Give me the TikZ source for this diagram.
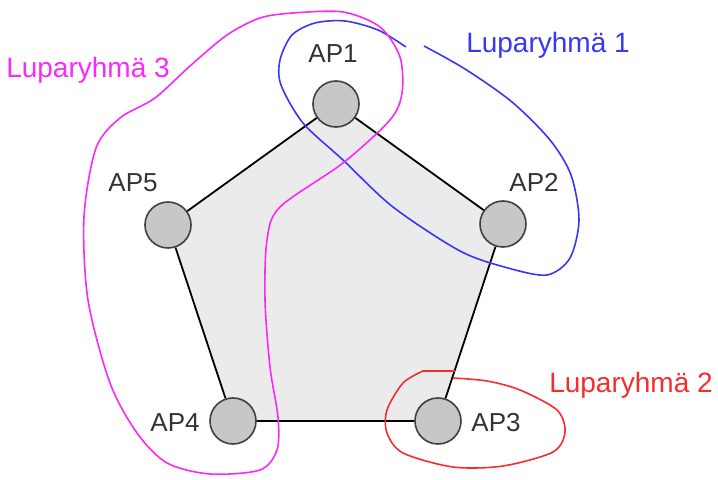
\documentclass[tikz,border=0pt]{standalone}
\usepackage{fontspec}
\setmainfont{Liberation Sans}
\usetikzlibrary{positioning}
\definecolor{grpone}{RGB}{55,55,245}
\definecolor{grptwo}{RGB}{245,45,45}
\definecolor{grpthree}{RGB}{250,40,250}
\tikzset{
	ap/.style={circle, draw=black!75, fill=black!22, thick, minimum size=23pt, inner sep=0pt},
	aplabel/.style={anchor=base, text=black!80, font=\fontsize{13}{15}\selectfont},
	grplabel/.style={anchor=base, font=\fontsize{14}{16}\selectfont},
	grpline/.style={line width=0.8pt}
}

\begin{document}
\begin{tikzpicture}[x=0.5pt, y=-0.5pt]
	\useasboundingbox (0,0) rectangle (718,480);
	% access points
	\foreach \name/\x/\y in {ap1/336/104, ap2/503/224, ap3/438/421, ap4/233/421, ap5/168/225} {
		\coordinate (\name c) at (\x, \y);
	}
	\fill[black!8] (ap1c) -- (ap2c) -- (ap3c) -- (ap4c) -- (ap5c) -- cycle;
	\foreach \name in {ap1,ap2,ap3,ap4,ap5} {
		\node[ap] (\name) at (\name c) {};
	}
	\draw[line width=0.9pt] (ap1) -- (ap2) -- (ap3) -- (ap4) -- (ap5) -- (ap1);
	\node[aplabel] (ap1lbl) at (333, 63) {AP1};
	\node[aplabel] (ap2lbl) at (534, 192) {AP2};
	\node[aplabel] (ap3lbl) at (496, 432) {AP3};
	\node[aplabel] (ap4lbl) at (175, 432) {AP4};
	\node[aplabel] (ap5lbl) at (133, 192) {AP5};
	% groups
	\draw[grpline, grpone] plot[smooth] coordinates {(424,46) (465,69) (512,102) (550,140) (571,175) (579,220) (570,258) (547,275) (508,268) (460,251) (393,207) (343,160) (303,123) (281,85) (280,60) (292,35) (315,23) (345,21) (378,30) (406,47)};
	\draw[grpline, grpthree] plot[smooth cycle] coordinates {(293,13) (343,12) (380,27) (400,57) (402,93) (390,120) (343,163) (280,207) (267,240) (265,300) (270,367) (278,417) (277,450) (260,470) (210,474) (167,463) (137,433) (110,383) (88,300) (84,217) (96,148) (120,118) (155,98) (190,66) (227,35) (260,18)};
	\draw[grpline, grptwo] plot[smooth] coordinates {(453,378) (487,381) (520,390) (557,410) (565,432) (553,452) (503,466) (453,467) (403,453) (387,433) (387,410) (403,383) (423,371)} -- (455,371);
	\node[grplabel, text=grpone] (grp1lbl) at (548, 53) {Luparyhmä 1};
	\node[grplabel, text=grptwo] (grp2lbl) at (631, 393) {Luparyhmä 2};
	\node[grplabel, text=grpthree] (grp3lbl) at (88, 78) {Luparyhmä 3};
\end{tikzpicture}
\end{document}
